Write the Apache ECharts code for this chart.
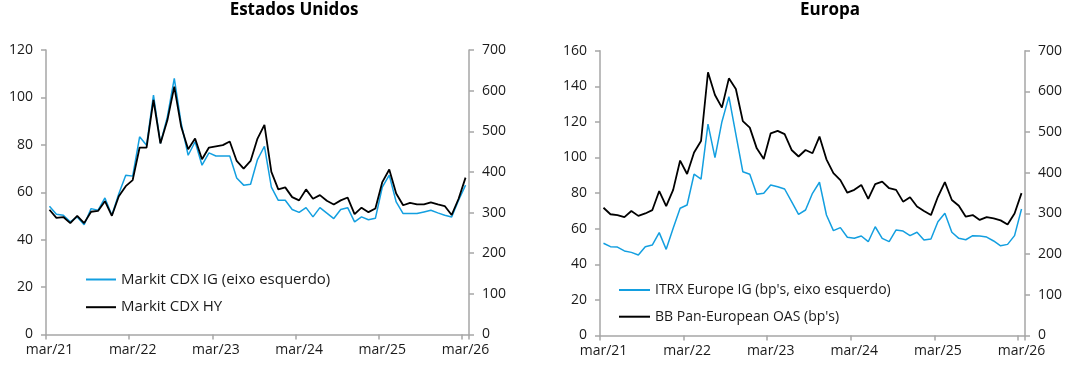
<!DOCTYPE html>
<html>
<head>
<meta charset="utf-8">
<script src="https://cdn.jsdelivr.net/npm/echarts/dist/echarts.min.js"></script>
<style>
html,body{margin:0;padding:0;background:#ffffff;}
#c{width:1073px;height:371px;}
</style>
</head>
<body>
<div id="c"></div>
<script>
// ---- data ----
const months = [
  'mar/21','abr/21','mai/21','jun/21','jul/21','ago/21','set/21','out/21','nov/21','dez/21','jan/22','fev/22',
  'mar/22','abr/22','mai/22','jun/22','jul/22','ago/22','set/22','out/22','nov/22','dez/22','jan/23','fev/23',
  'mar/23','abr/23','mai/23','jun/23','jul/23','ago/23','set/23','out/23','nov/23','dez/23','jan/24','fev/24',
  'mar/24','abr/24','mai/24','jun/24','jul/24','ago/24','set/24','out/24','nov/24','dez/24','jan/25','fev/25',
  'mar/25','abr/25','mai/25','jun/25','jul/25','ago/25','set/25','out/25','nov/25','dez/25','jan/26','fev/26',
  'mar/26'
];

// Estados Unidos
const usIG = [
  54.1,50.7,50.3,47.5,49.6,46.3,53.1,52.4,57.6,50.3,
  59.4,67.2,66.8,83.4,79.8,101,80.6,91.8,108,89,
  75.6,81.3,71.4,76.6,75.3,75.3,75.3,66.0,63.0,63.4,
  73.8,79.4,62.2,56.6,56.6,52.7,51.5,53.5,49.6,53.5,
  51.2,48.9,52.7,53.5,47.5,49.6,48.4,49.0,62.2,67.2,
  55.9,51.0,51.0,51.0,51.7,52.4,51.3,50.3,49.6,56.6,
  63.0
];
const usHY = [
  307,287,289,274,292,274,302,304,328,292,
  340,365,380,460,460,577,470,527,610,511,
  456,482,431,460,463,466,475,427,408,427,
  482,516,400,357,362,338,330,357,334,343,
  329,320,330,337,296,312,301,310,375,406,
  347,318,324,320,320,325,320,316,294,334,
  386
];

// Europa
const euIG = [
  51.8,49.9,49.7,47.5,46.7,45.2,49.9,50.8,57.8,48.4,
  60.2,71.5,73.3,90.6,87.9,118.7,99.9,120.1,134.2,113,
  92.0,90.6,79.3,79.9,84.6,83.6,82.3,75.2,68.1,70.5,
  79.9,86.1,67.7,58.9,60.6,55.2,54.6,55.9,52.7,61.1,
  54.6,52.7,59.3,58.7,56.1,58.0,53.7,54.2,63.9,68.7,
  58.0,54.6,53.8,56.1,55.9,55.3,53.1,50.4,51.2,56.1,
  71.1
];
const euHY = [
  314,298,296,291,306,294,300,308,355,318,
  358,430,397,450,478,647,591,560,632,606,
  527,511,460,434,497,503,495,456,440,456,
  448,489,433,399,382,351,358,370,336,372,
  378,362,358,329,340,317,306,296,341,377,
  333,319,292,296,284,291,288,283,273,300,
  350
];

const titles = ['Estados Unidos', 'Europa'];
const seriesNames = [
  ['Markit CDX IG (eixo esquerdo)', 'Markit CDX HY'],
  ['ITRX Europe IG (bp\'s, eixo esquerdo)', 'BB Pan-European OAS (bp\'s)']
];
const leftAxisMax = [120, 160];
const rightAxisMax = 700;

// ---- styles ----
const FONT = 'Open Sans';
const AX = '#a6a6a6';
const TXT = '#1a1a1a';
const BLUE = '#139fe0';
const BLACK = '#000000';

function xAxis(g) {
  return {
    type: 'category', gridIndex: g, data: months, boundaryGap: true,
    axisLine: { show: true, lineStyle: { color: AX, width: 1.5 } },
    axisTick: { show: true, interval: 11, length: 5, alignWithLabel: false, lineStyle: { color: AX, width: 1.5 } },
    axisLabel: { interval: 11, margin: 9, color: TXT, fontFamily: FONT, fontSize: 14 },
    splitLine: { show: false }
  };
}
function yAxis(g, pos, max, interval) {
  return {
    type: 'value', gridIndex: g, position: pos, min: 0, max: max, interval: interval,
    axisLine: { show: true, onZero: false, lineStyle: { color: AX, width: 1.5 } },
    axisTick: { show: true, length: 5, lineStyle: { color: AX, width: 1.5 } },
    axisLabel: { margin: 13, color: TXT, fontFamily: FONT, fontSize: 14 },
    splitLine: { show: false }
  };
}
function legend(i, left, top, w, fs) {
  return {
    orient: 'vertical', left: left, top: top, padding: 0,
    itemWidth: w, itemHeight: 14, itemGap: 12.7,
    data: seriesNames[i],
    itemStyle: { opacity: 0, borderWidth: 0 },
    textStyle: { color: TXT, fontFamily: FONT, fontSize: fs },
    selectedMode: false
  };
}

const chart = echarts.init(document.getElementById('c'), null, { renderer: 'canvas' });
chart.setOption({
  backgroundColor: '#ffffff',
  animation: false,
  title: [
    { text: titles[0], left: 294, top: 2, textAlign: 'center', padding: 0,
      textStyle: { fontSize: 17, fontWeight: 'bold', fontFamily: FONT, color: '#000' } },
    { text: titles[1], left: 830, top: 2, textAlign: 'center', padding: 0,
      textStyle: { fontSize: 17, fontWeight: 'bold', fontFamily: FONT, color: '#000' } }
  ],
  grid: [
    { left: 46, top: 50, width: 423, height: 284.5, containLabel: false },
    { left: 600, top: 50.7, width: 425, height: 284.8, containLabel: false }
  ],
  legend: [ legend(0, 85, 272, 30, 15), legend(1, 618, 283, 31, 14) ],
  xAxis: [ xAxis(0), xAxis(1) ],
  yAxis: [
    yAxis(0, 'left', leftAxisMax[0], 20),
    yAxis(0, 'right', rightAxisMax, 100),
    yAxis(1, 'left', leftAxisMax[1], 20),
    yAxis(1, 'right', rightAxisMax, 100)
  ],
  series: [
    { name: seriesNames[0][0], type: 'line', xAxisIndex: 0, yAxisIndex: 0, data: usIG,
      symbol: 'none', color: BLUE, lineStyle: { color: BLUE, width: 1.5 } },
    { name: seriesNames[0][1], type: 'line', xAxisIndex: 0, yAxisIndex: 1, data: usHY,
      symbol: 'none', color: BLACK, lineStyle: { color: BLACK, width: 1.8 } },
    { name: seriesNames[1][0], type: 'line', xAxisIndex: 1, yAxisIndex: 2, data: euIG,
      symbol: 'none', color: BLUE, lineStyle: { color: BLUE, width: 1.5 } },
    { name: seriesNames[1][1], type: 'line', xAxisIndex: 1, yAxisIndex: 3, data: euHY,
      symbol: 'none', color: BLACK, lineStyle: { color: BLACK, width: 1.8 } }
  ]
});
</script>
</body>
</html>
